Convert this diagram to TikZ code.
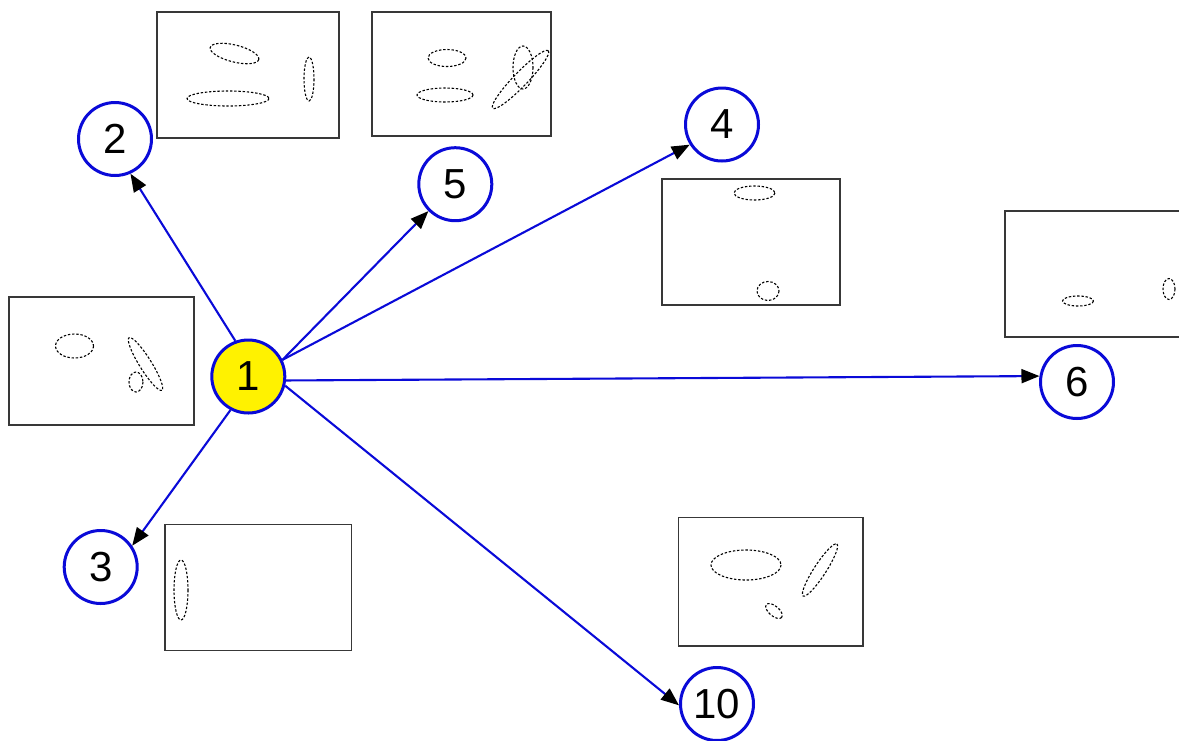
\documentclass[tikz,border=0pt]{standalone}
\usepackage{fontspec}
\setmainfont{Liberation Sans}
\usetikzlibrary{arrows.meta}
\definecolor{edgeblue}{HTML}{0A0AD8}
\begin{document}
\begin{tikzpicture}[x=1pt,y=-1pt,
  state/.style={circle, draw=edgeblue, line width=3pt, minimum size=73pt,
    inner sep=0pt, fill=white, font=\fontsize{42}{50}\selectfont},
  initstate/.style={state, fill=yellow},
  picframe/.style={draw=black!78, line width=1.4pt},
  blob/.style={draw=black, line width=1.1pt, dash pattern=on 2.4pt off 1.8pt},
  edgearrow/.style={draw=edgeblue, line width=2.1pt,
    -{Triangle[length=18pt,width=14pt,black]}}]

\useasboundingbox (0,0) rectangle (1179,740);
\clip (0,0) rectangle (1179,740);

% thumbnail frames
\draw[picframe] (157,12) rectangle (339,138);
\draw[picframe] (372,12) rectangle (551,136);
\draw[picframe] (9,297) rectangle (194,425);
\draw[picframe] (662,179) rectangle (840,305);
\draw[picframe] (1005,211) rectangle (1200,337);
\draw[picframe] (165,524.5) rectangle (351.5,650.5);
\draw[picframe] (678.5,517.5) rectangle (863,646);

% dotted blobs inside the frames
\foreach \cx/\cy/\rx/\ry/\ang in {
  234.5/53.5/25/8.5/-14, 228/98.5/41/7.5/0, 309/79/5/22/0,
  447/58/19/8.5/0, 445/95/28/7/0, 523/67.5/10/21.5/0, 520.5/79.5/40/7/46,
  74.5/346/19/12/0, 145.5/364/31/6/-58, 136/382/7/10/0,
  754.5/193/20.5/7/0, 768/291/11/9.5/0,
  1078/301/15.5/5/0, 1169/289/6/10.5/0,
  181/590/7/30/0,
  746/565/35/15/0, 820/570/31/6/57, 774/611/10/5/-40}
  \draw[blob, shift={(\cx,\cy)}, rotate=\ang] (0,0) ellipse [x radius=\rx, y radius=\ry];

% states
\node[initstate] (n1) at (248.3,376.5) {1};
\node[state] (n2) at (115,139) {2};
\node[state] (n3) at (100.7,567) {3};
\node[state] (n4) at (722,124.5) {4};
\node[state] (n5) at (455.3,184.2) {5};
\node[state] (n6) at (1077,382) {6};
\node[state] (n10) at (717,704) {10};

% transitions
\draw[edgearrow] (n1.110) -- (n2.-66);
\draw[edgearrow] (n1.26) -- (n5.225);
\draw[edgearrow] (n1.26) -- (n4.212);
\draw[edgearrow] (n1.-6) -- (n6.171);
\draw[edgearrow] (n1.242.5) -- (n3.34.5);
\draw[edgearrow] (n1.-14) -- (n10.182);
\end{tikzpicture}
\end{document}
